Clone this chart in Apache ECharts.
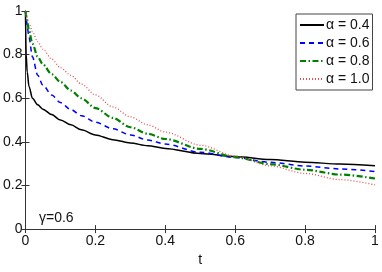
<!DOCTYPE html>
<html><head><meta charset="utf-8">
<script src="https://cdn.jsdelivr.net/npm/echarts@6/dist/echarts.min.js"></script>
<style>html,body{margin:0;padding:0;background:#fff}#c{width:382px;height:272px}</style>
</head><body><div id="c"></div>
<script>
const tVals = [0, 0.002, 0.005, 0.01, 0.02, 0.035, 0.05, 0.075, 0.1, 0.13, 0.16, 0.2, 0.25, 0.3, 0.35, 0.4, 0.5, 0.6, 0.7, 0.8, 0.9, 1.0];
const alpha04 = [1, 0.8, 0.72, 0.655, 0.60, 0.57, 0.55, 0.525, 0.50, 0.478, 0.455, 0.432, 0.41, 0.395, 0.382, 0.37, 0.347, 0.333, 0.319, 0.307, 0.298, 0.29];
const alpha06 = [1, 0.97, 0.93, 0.88, 0.79, 0.705, 0.66, 0.615, 0.58, 0.548, 0.52, 0.49, 0.46, 0.432, 0.408, 0.39, 0.352, 0.328, 0.306, 0.289, 0.276, 0.264];
const alpha08 = [1, 0.98, 0.95, 0.91, 0.85, 0.79, 0.755, 0.71, 0.675, 0.635, 0.6, 0.555, 0.51, 0.467, 0.437, 0.413, 0.368, 0.33, 0.298, 0.272, 0.25, 0.232];
const alpha10 = [1, 0.99, 0.97, 0.945, 0.905, 0.86, 0.825, 0.78, 0.74, 0.705, 0.665, 0.615, 0.56, 0.515, 0.478, 0.445, 0.385, 0.335, 0.29, 0.255, 0.227, 0.203];
const seriesNames = ['α = 0.4', 'α = 0.6', 'α = 0.8', 'α = 1.0'];
const xTicks = [0, 0.2, 0.4, 0.6, 0.8, 1];
const yTicks = [0, 0.2, 0.4, 0.6, 0.8, 1];
const annotation = 'γ=0.6';
const xName = 't';

const font = 'Liberation Sans, Arial, sans-serif';
const pairs = v => tVals.map((t, i) => [t, v[i]]);
const styles = [
  {color: '#000000', width: 1.5, type: 'solid'},
  {color: '#0000ff', width: 1.5, type: [5, 4]},
  {color: '#008000', width: 2.2, type: [6, 2.5, 1.5, 2.5]},
  {color: '#e05050', width: 1.3, type: [1, 2]}
];
const vals = [alpha04, alpha06, alpha08, alpha10];
const axisCommon = {
  type: 'value', min: 0, max: 1, interval: 0.2,
  axisLine: {show: true, lineStyle: {color: '#333', width: 1}},
  axisTick: {show: true, inside: true, length: 4, lineStyle: {color: '#333'}},
  splitLine: {show: false}
};
const chart = echarts.init(document.getElementById('c'), null, {renderer: 'canvas'});
chart.setOption({
  animation: false,
  backgroundColor: '#fff',
  grid: {left: 22, right: 7, top: 11, bottom: 32},
  xAxis: [
    Object.assign({}, axisCommon, {position: 'bottom', name: xName, nameLocation: 'middle', nameGap: 20,
      nameTextStyle: {color: '#111', fontSize: 14, fontFamily: font},
      axisLabel: {margin: 5, color: '#111', fontSize: 14, fontFamily: font,
        customValues: xTicks, formatter: v => String(+v.toFixed(1))}}),
    Object.assign({}, axisCommon, {position: 'top', axisLabel: {show: false}})
  ],
  yAxis: [
    Object.assign({}, axisCommon, {position: 'left',
      axisLabel: {margin: 3, color: '#111', fontSize: 14, fontFamily: font,
        customValues: yTicks, formatter: v => String(+v.toFixed(1))}}),
    Object.assign({}, axisCommon, {position: 'right', axisLabel: {show: false}})
  ],
  legend: {
    left: 296, top: 14, orient: 'vertical',
    itemWidth: 24, itemHeight: 14, itemGap: 4,
    padding: [4, 3, 4, 3],
    borderColor: '#444', borderWidth: 1, backgroundColor: '#fff',
    itemStyle: {opacity: 0},
    textStyle: {color: '#111', fontSize: 14, fontFamily: font, padding: [0, 0, 0, -3]},
    data: seriesNames
  },
  graphic: [{type: 'text', left: 39, top: 211, style: {text: annotation, fill: '#111', font: '14px ' + font}}],
  series: vals.map((v, i) => ({
    name: seriesNames[i], type: 'line', data: pairs(v), symbol: 'none', smooth: 0.3,
    smoothMonotone: 'x',
    lineStyle: styles[i], itemStyle: {color: styles[i].color}
  }))
});
</script></body></html>
